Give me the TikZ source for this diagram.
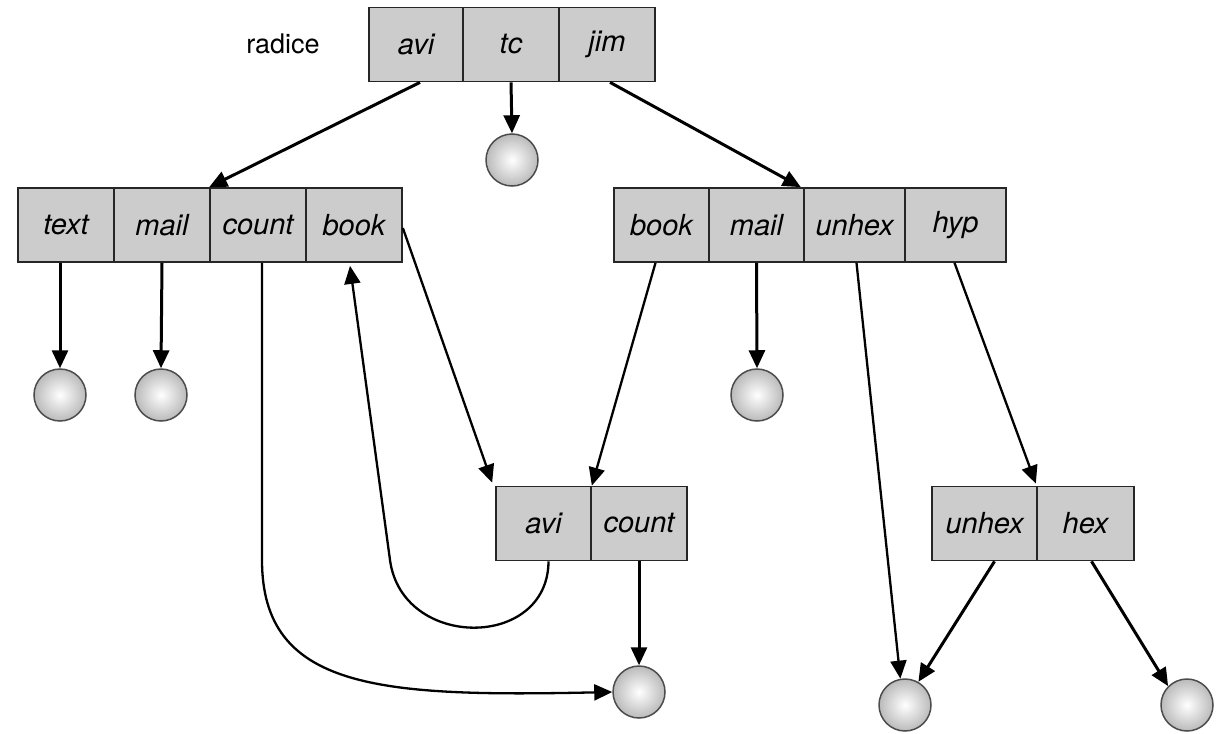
\documentclass[tikz,border=0pt]{standalone}
\usepackage{fontspec}
\setmainfont{TeX Gyre Heros}
\usetikzlibrary{arrows.meta,calc}
\definecolor{cellgray}{RGB}{204,204,204}
\tikzset{
  cell/.style={draw=black!85, line width=1.7pt, fill=cellgray, minimum height=74pt, inner sep=0pt, font=\fontsize{29}{34}\selectfont\itshape},
  leaf/.style={circle, draw=black!70, line width=1.5pt, minimum size=52pt, inner sep=0pt, inner color=white, outer color=black!27},
  ptr/.style={line width=3pt, -{Triangle[length=18pt,width=16pt]}},
  thinptr/.style={line width=2.3pt, -{Triangle[length=18pt,width=16pt]}}
}
\begin{document}
\begin{tikzpicture}[x=1pt,y=-1pt]
\useasboundingbox (0,0) rectangle (1217,733);
% root
\node[cell, minimum width=94pt] (r1) at (416,44.5) {avi};
\node[cell, minimum width=96pt] (r2) at (511,44.5) {tc};
\node[cell, minimum width=96pt] (r3) at (607,44.5) {jim};
\node[font=\fontsize{27}{32}\selectfont] (lab) at (283,44) {radice};
% left level-2 node
\node[cell, minimum width=96pt] (L1) at (66,225) {text};
\node[cell, minimum width=96pt] (L2) at (162,225) {mail};
\node[cell, minimum width=96pt] (L3) at (258,225) {count};
\node[cell, minimum width=96pt] (L4) at (354,225) {book};
% right level-2 node
\node[cell, minimum width=95pt] (R1) at (661.5,225) {book};
\node[cell, minimum width=95pt] (R2) at (756.5,225) {mail};
\node[cell, minimum width=101pt] (R3) at (854.5,225) {unhex};
\node[cell, minimum width=101pt] (R4) at (955.5,225) {hyp};
% middle node
\node[cell, minimum width=95pt] (M1) at (543.5,523.5) {avi};
\node[cell, minimum width=96pt] (M2) at (639,523.5) {count};
% lower right node
\node[cell, minimum width=105pt] (H1) at (984.5,523.5) {unhex};
\node[cell, minimum width=97pt] (H2) at (1085.5,523.5) {hex};
% leaves
\node[leaf] (ctc) at (512,160) {};
\node[leaf] (ctext) at (60,395) {};
\node[leaf] (cmail) at (161,395) {};
\node[leaf] (crmail) at (757,395) {};
\node[leaf] (ccount) at (639,692) {};
\node[leaf] (cll) at (905,705) {};
\node[leaf] (crr) at (1187,705) {};
% pointers
\draw[ptr] ($(r1.south)+(4,0)$) -- (L3.north west);
\draw[ptr] (r2.south) -- (ctc.north);
\draw[ptr] ($(r3.south)+(3,0)$) -- ($(R2.north east)+(-4,0)$);
\draw[ptr] ($(L1.south)+(-6,0)$) -- (ctext.north);
\draw[ptr] (L2.south) -- (cmail.north);
\coordinate (cbend) at (262,560);
\draw[thinptr] ($(L3.south)+(4,0)$) -- (cbend) .. controls (262,690) and (380,697) .. (ccount.west);
\draw[thinptr] ($(L4.east)+(0,3)$) -- ($(M1.north west)+(-3,-3)$);
\coordinate (abend) at (390,560);
\draw[thinptr] ($(M1.south)+(5,0)$) .. controls (548,650) and (402,650) .. (abend) -- ($(L4.south)+(-4,3)$);
\draw[thinptr] ($(R1.south)+(-6,0)$) -- (M1.north east);
\draw[ptr] (R2.south) -- (crmail.north);
\draw[thinptr] ($(R3.south)+(2,0)$) -- (cll.100);
\draw[thinptr] ($(R4.south)+(-1,0)$) -- ($(H1.north east)+(-2,-2)$);
\draw[ptr] (M2.south) -- (ccount.north);
\draw[ptr] ($(H1.south)+(10,0)$) -- (cll.60);
\draw[ptr] ($(H2.south)+(6,0)$) -- (crr.135);
\end{tikzpicture}
\end{document}
